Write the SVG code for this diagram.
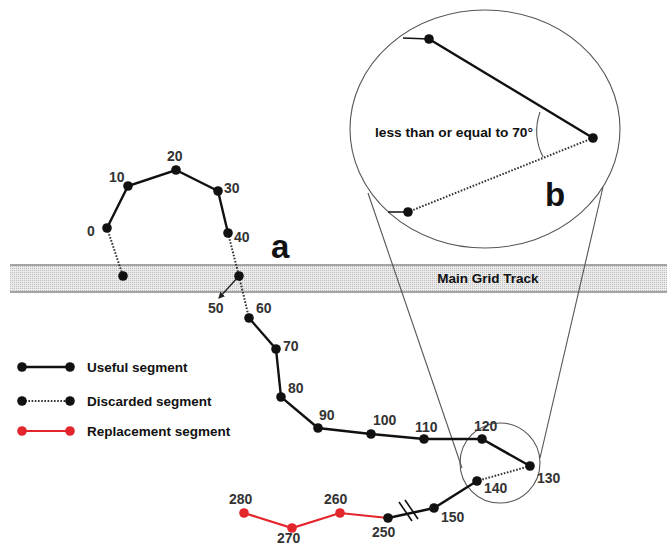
<svg xmlns="http://www.w3.org/2000/svg" width="667" height="546" viewBox="0 0 667 546">
<defs>
<pattern id="grid" width="2" height="2" patternUnits="userSpaceOnUse">
<rect width="2" height="2" fill="#ebebeb"/>
<rect width="1" height="1" fill="#bdbdbd"/>
</pattern>
<marker id="arr" viewBox="0 0 6 6" refX="5" refY="3" markerWidth="5" markerHeight="5" orient="auto">
<path d="M0,0 L6,3 L0,6 z" fill="#222"/>
</marker>
<style>
.solid{stroke:#111;stroke-width:2.4;fill:none;stroke-linecap:round}
.dot{stroke:#333;stroke-width:2;stroke-dasharray:1.6,1.6;fill:none}
.red{stroke:#e3262b;stroke-width:2.2;fill:none}
.thin{stroke:#555;stroke-width:1.1;fill:none}
.n{fill:#111}
.r{fill:#e3262b}
.lbl{font-family:"Liberation Sans",Arial,sans-serif;font-weight:bold;font-size:14px;fill:#333}
.leg{font-family:"Liberation Sans",Arial,sans-serif;font-weight:bold;font-size:13.5px;fill:#111}
.big{font-family:"Liberation Sans",Arial,sans-serif;font-weight:bold;font-size:33px;fill:#111}
</style>
</defs>
<rect width="667" height="546" fill="#fff"/>
<g id="track">
<rect x="10" y="265" width="657" height="27" fill="url(#grid)"/>
<line x1="10" y1="265" x2="667" y2="265" stroke="#888" stroke-width="1.5"/>
<line x1="10" y1="292" x2="667" y2="292" stroke="#888" stroke-width="1.5"/>
<text x="488" y="283" text-anchor="middle" class="leg" font-size="12">Main Grid Track</text>
</g>
<g id="zoom-lens">
<ellipse cx="485" cy="129" rx="135" ry="119" class="thin"/>
<circle cx="500" cy="463" r="40" class="thin"/>
<line x1="368" y1="193" x2="462" y2="468" class="thin"/>
<line x1="603" y1="187" x2="540" y2="458" class="thin"/>
</g>
<g id="connectors">
<polyline class="solid" points="107,228 128,186 176,170 218,191 228,233"/>
<line class="dot" x1="107" y1="228" x2="123" y2="276"/>
<polyline class="dot" points="228,233 239,276 249,318"/>
<line x1="239" y1="276" x2="219" y2="298" stroke="#222" stroke-width="1.3" marker-end="url(#arr)"/>
<polyline class="solid" points="249,318 276,349 281,397 318,428 371,434 424,439 482,439 530,466"/>
<line class="dot" x1="530" y1="466" x2="477" y2="481"/>
<polyline class="solid" points="477,481 434,508 388,518"/>
<line x1="399" y1="502" x2="412" y2="521" stroke="#111" stroke-width="1.6"/>
<line x1="405" y1="500" x2="418" y2="519" stroke="#111" stroke-width="1.6"/>
<polyline class="red" points="388,518 340,513 292,528 244,513"/>
<line class="solid" x1="429" y1="39" x2="593" y2="138"/>
<line class="dot" x1="593" y1="138" x2="408" y2="212"/>
<line x1="403" y1="38" x2="429" y2="39" stroke="#111" stroke-width="1.5"/>
<line x1="388" y1="212" x2="408" y2="212" stroke="#111" stroke-width="1.5"/>
<path d="M540,112 A58,58 0 0 0 543,157" class="thin"/>
</g>
<g id="nodes">
<circle cx="107" cy="228" r="4.8" class="n"/>
<circle cx="128" cy="186" r="4.8" class="n"/>
<circle cx="176" cy="170" r="4.8" class="n"/>
<circle cx="218" cy="191" r="4.8" class="n"/>
<circle cx="228" cy="233" r="4.8" class="n"/>
<circle cx="123" cy="276" r="4.8" class="n"/>
<circle cx="239" cy="276" r="4.8" class="n"/>
<circle cx="249" cy="318" r="4.8" class="n"/>
<circle cx="276" cy="349" r="4.8" class="n"/>
<circle cx="281" cy="397" r="4.8" class="n"/>
<circle cx="318" cy="428" r="4.8" class="n"/>
<circle cx="371" cy="434" r="4.8" class="n"/>
<circle cx="424" cy="439" r="4.8" class="n"/>
<circle cx="482" cy="439" r="4.8" class="n"/>
<circle cx="530" cy="466" r="4.8" class="n"/>
<circle cx="477" cy="481" r="4.8" class="n"/>
<circle cx="434" cy="508" r="4.8" class="n"/>
<circle cx="388" cy="518" r="4.8" class="n"/>
<circle cx="340" cy="513" r="4.8" class="r"/>
<circle cx="292" cy="528" r="4.8" class="r"/>
<circle cx="244" cy="513" r="4.8" class="r"/>
<circle cx="429" cy="39" r="4.8" class="n"/>
<circle cx="593" cy="138" r="4.8" class="n"/>
<circle cx="408" cy="212" r="4.8" class="n"/>
</g>
<g id="labels">
<text class="lbl" x="87" y="236">0</text>
<text class="lbl" x="109" y="182">10</text>
<text class="lbl" x="167" y="161">20</text>
<text class="lbl" x="224" y="193">30</text>
<text class="lbl" x="234" y="242">40</text>
<text class="lbl" x="208" y="313">50</text>
<text class="lbl" x="256" y="313">60</text>
<text class="lbl" x="283" y="351">70</text>
<text class="lbl" x="288" y="393">80</text>
<text class="lbl" x="319" y="420">90</text>
<text class="lbl" x="373" y="425">100</text>
<text class="lbl" x="415" y="432">110</text>
<text class="lbl" x="474" y="431">120</text>
<text class="lbl" x="537" y="483">130</text>
<text class="lbl" x="484" y="493">140</text>
<text class="lbl" x="441" y="522">150</text>
<text class="lbl" x="372" y="537">250</text>
<text class="lbl" x="324" y="504">260</text>
<text class="lbl" x="277" y="543">270</text>
<text class="lbl" x="229" y="504">280</text>
<text class="big" x="271" y="258">a</text>
<text class="big" x="545" y="206">b</text>
<text class="leg" x="375" y="137" font-size="12" textLength="158" lengthAdjust="spacingAndGlyphs">less than or equal to 70°</text>
</g>
<g id="legend">
<line class="solid" x1="22" y1="367" x2="70" y2="367"/>
<circle cx="22" cy="367" r="4.8" class="n"/>
<circle cx="70" cy="367" r="4.8" class="n"/>
<text class="leg" x="87" y="372">Useful segment</text>
<line class="dot" x1="22" y1="401" x2="70" y2="401"/>
<circle cx="22" cy="401" r="4.8" class="n"/>
<circle cx="70" cy="401" r="4.8" class="n"/>
<text class="leg" x="87" y="406">Discarded segment</text>
<line class="red" x1="22" y1="431" x2="70" y2="431"/>
<circle cx="22" cy="431" r="4.8" class="r"/>
<circle cx="70" cy="431" r="4.8" class="r"/>
<text class="leg" x="87" y="436">Replacement segment</text>
</g>
</svg>
